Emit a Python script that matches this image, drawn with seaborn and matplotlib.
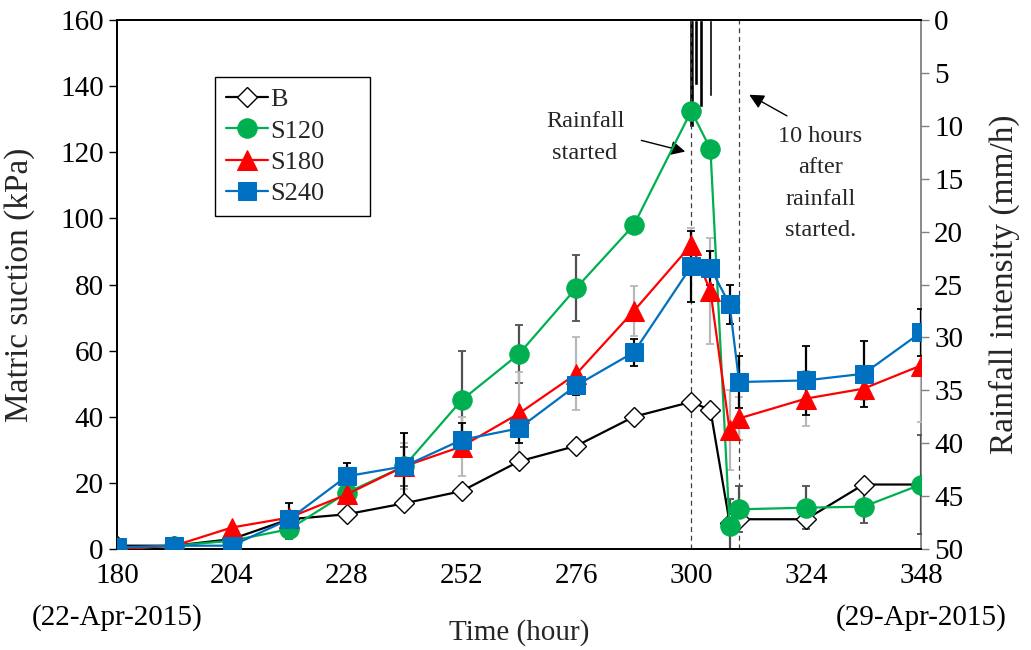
import numpy as np
import pandas as pd
import matplotlib
matplotlib.use("Agg")
import matplotlib.pyplot as plt
from matplotlib import font_manager
import seaborn as sns

# ---------------- data ----------------
hours = [180, 192, 204, 216, 228, 240, 252, 264, 276, 288, 300, 304, 308, 310, 324, 336, 348]
B    = [1, 1, 3, 9, 10.5, 13.8, 17.5, 26.5, 31.2, 40, 44.5, 42, 8, 9, 9, 19.5, 19.5]
S120 = [0, 1, 2.5, 6, 17, 25, 45, 59, 79, 98, 132.5, 121, 7, 12, 12.5, 12.8, 19.5]
S180 = [0, 1, 6.5, 9.5, 16.5, 25, 31, 41, 53, 72, 92, 78, 36, 39.5, 45.5, 48.5, 55.5]
S240 = [0.5, 1, 1, 9, 22, 25, 33, 36.5, 49.5, 59.5, 85.5, 85, 74, 50.5, 51, 53, 65.5]

S120_err = [0, 0, 0, 3, 3, 6, 15, 8.7, 10, 2, 0, 0, 8, 7, 6.5, 5, 15]
S180_err = [0, 0, 0, 0, 2, 7, 9, 12.5, 11, 7.5, 5, 16, 12, 6.5, 8.3, 3.5, 17]
S240_err = [0, 0, 0, 5, 4, 10, 5, 4.5, 3, 4, 10.7, 5, 6, 8, 10.4, 10, 7]

rain_hours = [300, 301, 302, 304]
rain_mm = [10.1, 6.1, 8.2, 7.2]

x_ticks = [180, 204, 228, 252, 276, 300, 324, 348]
x_ticklabels = ["180\n(22-Apr-2015)", "204", "228", "252", "276", "300", "324", "348\n(29-Apr-2015)"]
event_hours = [300, 310]

# ---------------- style ----------------
sns.set_theme(style="white")
names = {f.name for f in font_manager.fontManager.ttflist}
serif = [n for n in ["Times New Roman", "Liberation Serif", "Nimbus Roman", "DejaVu Serif"] if n in names]
plt.rcParams["font.family"] = serif + ["DejaVu Sans"]
FS_TICK = 21
FS_LAB = 24
FS_ANN = 17.5
FS_LEG = 19
plt.rcParams["font.size"] = FS_TICK

fig = plt.figure(figsize=(10.31, 6.5), dpi=100)
ax = fig.add_axes([0.1135, 0.1554, 0.7798, 0.8138])
ax2 = ax.twinx()

# rainfall bars on right (inverted) axis
ax2.bar(rain_hours, rain_mm, width=[1.1, 0.7, 0.7, 0.7], color="black", align="center", zorder=1)
ax2.set_ylim(50, 0)
ax2.set_yticks(np.arange(0, 51, 5))
ax2.set_ylabel("Rainfall intensity (mm/h)", fontsize=FS_LAB, labelpad=18)

ax.set_zorder(ax2.get_zorder() + 1)
ax.patch.set_visible(False)

for h in event_hours:
    ax.axvline(h, color="#404040", linestyle=(0, (4, 3)), linewidth=0.9, zorder=1)

ax.errorbar(hours, S120, yerr=S120_err, fmt="none", ecolor="#505050", elinewidth=1.6, capsize=3, capthick=1.3, zorder=2)
ax.errorbar(hours, S180, yerr=S180_err, fmt="none", ecolor="#b8b8b8", elinewidth=1.6, capsize=3, capthick=1.3, zorder=2)
ax.errorbar(hours, S240, yerr=S240_err, fmt="none", ecolor="black", elinewidth=1.6, capsize=3, capthick=1.3, zorder=2)

df = pd.DataFrame({"hour": hours, "B": B, "S120": S120, "S180": S180, "S240": S240})

sns.lineplot(data=df, x="hour", y="B", ax=ax, color="black", marker="D", markersize=10,
             markerfacecolor="white", markeredgecolor="black", markeredgewidth=1.0,
             linewidth=1.6, label="B", zorder=3)
sns.lineplot(data=df, x="hour", y="S120", ax=ax, color="#00B050", marker="o", markersize=14,
             markeredgecolor="#00B050", linewidth=1.6, label="S120", zorder=4)
sns.lineplot(data=df, x="hour", y="S180", ax=ax, color="#FF0000", marker="^", markersize=14,
             markeredgecolor="#FF0000", linewidth=1.6, label="S180", zorder=5)
sns.lineplot(data=df, x="hour", y="S240", ax=ax, color="#0070C0", marker="s", markersize=13,
             markeredgecolor="#0070C0", linewidth=1.6, label="S240", zorder=6)

ax.set_xlim(180, 348)
ax.set_ylim(0, 160)
ax.set_xticks(x_ticks)
ax.set_xticklabels(x_ticklabels, linespacing=1.75)
ax.set_yticks(np.arange(0, 161, 20))
ax.set_xlabel("Time (hour)", fontsize=FS_TICK)
ax.xaxis.set_label_coords(0.5, -0.157)
ax.xaxis.label.set_va("center")
ax.set_ylabel("Matric suction (kPa)", fontsize=FS_LAB, labelpad=18)

for a in (ax, ax2):
    a.tick_params(direction="out", length=6, width=1, labelsize=FS_TICK, colors="black")
ax2.tick_params(axis="y", colors="#808080", labelcolor="black")
for s in ["left", "bottom", "top"]:
    for a in (ax, ax2):
        a.spines[s].set_color("black")
        a.spines[s].set_linewidth(1.3)
ax.spines["right"].set_visible(False)
ax2.spines["right"].set_color("#808080")
ax2.spines["right"].set_linewidth(1.3)
ax.tick_params(axis="x", pad=4)

leg = ax.legend(loc="upper left", bbox_to_anchor=(0.122, 0.63, 0.193, 0.262), mode="expand",
                frameon=True, fancybox=False, edgecolor="black", framealpha=1, fontsize=FS_LEG,
                handlelength=1.6, handletextpad=0.1, labelspacing=0.3, borderpad=0.4, borderaxespad=0)
leg.get_frame().set_linewidth(1.0)

ax.text(277.8, 124.5, "Rainfall\nstarted", ha="center", va="center", fontsize=FS_ANN, linespacing=1.65)
ax.annotate("", xy=(299.3, 120.0), xytext=(289.0, 123.8),
            arrowprops=dict(arrowstyle="-|>", color="black", lw=1.0, mutation_scale=22))
ax.text(327.0, 110.5, "10 hours\nafter\nrainfall\nstarted.", ha="center", va="center",
        fontsize=FS_ANN, linespacing=1.65)
ax.annotate("", xy=(311.6, 137.8), xytext=(320.5, 130.6),
            arrowprops=dict(arrowstyle="-|>", color="black", lw=1.0, mutation_scale=22))

fig.savefig("out.png", dpi=100)
